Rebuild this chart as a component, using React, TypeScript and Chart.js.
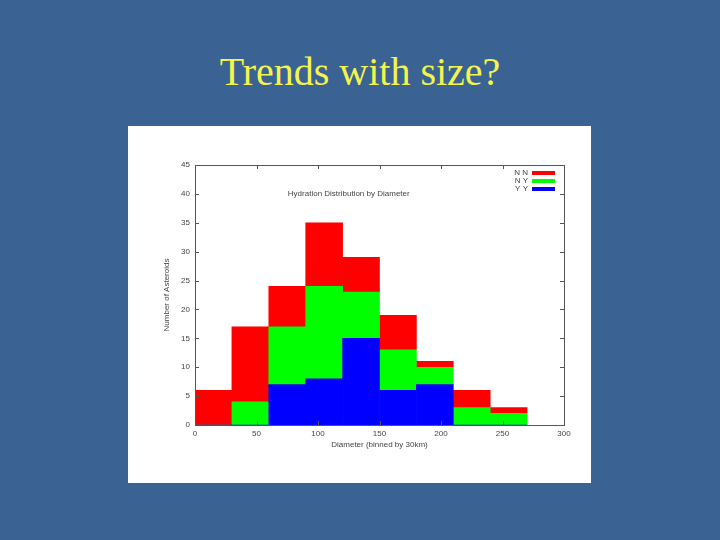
import React, { useEffect, useRef } from "react";
import { Chart, registerables } from "chart.js";

Chart.register(...registerables);

const binCenters = [15, 45, 75, 105, 135, 165, 195, 225, 255];
const yyValues = [0, 0, 7, 8, 15, 6, 7, 0, 0];
const nyValues = [0, 4, 10, 16, 8, 7, 3, 3, 2];
const nnValues = [6, 13, 7, 11, 6, 6, 1, 3, 1];
const seriesLabels = ["Y Y", "N Y", "N N"];
const seriesColors = ["#0000ff", "#00ff00", "#ff0000"];
const legendOrder = [2, 1, 0];
const chartTitle = "Hydration Distribution by Diameter";
const xTitle = "Diameter (binned by 30km)";
const yTitle = "Number of Asteroids";
const slideTitle = "Trends with size?";

const FONT = "'Liberation Sans', Arial, sans-serif";
const TEXT = "#444";

const gnuplotPlugin = {
  id: "gnuplotDecor",
  afterDatasetsDraw(chart: any) {
    const { ctx, chartArea } = chart;
    const { left, right, top, bottom } = chartArea;
    const xs = chart.scales.x;
    const ys = chart.scales.y;
    ctx.save();
    ctx.strokeStyle = "#555";
    ctx.lineWidth = 1;
    ctx.strokeRect(Math.round(left) + 0.5, Math.round(top) + 0.5, Math.round(right - left), Math.round(bottom - top));
    const tl = 4;
    ctx.beginPath();
    xs.ticks.forEach((t: any) => {
      const px = Math.round(xs.getPixelForValue(t.value)) + 0.5;
      ctx.moveTo(px, bottom);
      ctx.lineTo(px, bottom - tl);
      ctx.moveTo(px, top);
      ctx.lineTo(px, top + tl);
    });
    ys.ticks.forEach((t: any) => {
      const py = Math.round(ys.getPixelForValue(t.value)) + 0.5;
      ctx.moveTo(left, py);
      ctx.lineTo(left + tl, py);
      ctx.moveTo(right, py);
      ctx.lineTo(right - tl, py);
    });
    ctx.stroke();
    ctx.fillStyle = TEXT;
    ctx.font = `8px ${FONT}`;
    ctx.textAlign = "center";
    ctx.textBaseline = "middle";
    ctx.fillText(chartTitle, xs.getPixelForValue(125), ys.getPixelForValue(40));
    const ds = chart.data.datasets;
    legendOrder.forEach((idx, row) => {
      const y = top + 8 + row * 8;
      const swRight = right - 9;
      const swLeft = swRight - 23;
      ctx.fillStyle = ds[idx].backgroundColor;
      ctx.fillRect(swLeft, y - 2, 23, 4);
      ctx.fillStyle = TEXT;
      ctx.textAlign = "right";
      ctx.fillText(ds[idx].label, swLeft - 4, y);
    });
    ctx.restore();
  },
};

export default function App() {
  const ref = useRef<HTMLCanvasElement>(null);
  useEffect(() => {
    if (!ref.current) return;
    const series = [yyValues, nyValues, nnValues];
    const chart = new Chart(ref.current, {
      type: "bar",
      data: {
        datasets: series.map((vals, i) => ({
          label: seriesLabels[i],
          data: vals.map((v, j) => ({ x: binCenters[j], y: v })),
          backgroundColor: seriesColors[i],
          borderWidth: 0,
          barPercentage: 1,
          categoryPercentage: 1,
        })),
      },
      options: {
        animation: false,
        responsive: false,
        maintainAspectRatio: false,
        layout: { padding: { top: 39, right: 27, left: 0, bottom: 0 } },
        plugins: { legend: { display: false }, tooltip: { enabled: false } },
        scales: {
          x: {
            type: "linear",
            stacked: true,
            offset: false,
            min: 0,
            max: 300,
            border: { display: false },
            grid: { display: false, drawTicks: false },
            ticks: { stepSize: 50, padding: 4, color: TEXT, font: { size: 8, family: FONT }, maxRotation: 0 },
            title: { display: true, text: xTitle, color: TEXT, font: { size: 8, family: FONT }, padding: { top: 0, bottom: 33 } },
            afterFit: (s: any) => { s.height = 58; },
          },
          y: {
            stacked: true,
            min: 0,
            max: 45,
            border: { display: false },
            grid: { display: false, drawTicks: false },
            ticks: { stepSize: 5, padding: 5, color: TEXT, font: { size: 8, family: FONT } },
            title: { display: true, text: yTitle, color: TEXT, font: { size: 8, family: FONT }, padding: { top: 34, bottom: 0 } },
            afterFit: (s: any) => { s.width = 67; },
          },
        },
      },
      plugins: [gnuplotPlugin],
    } as any);
    return () => chart.destroy();
  }, []);

  return (
    <div style={{ position: "fixed", left: 0, top: 0, width: 720, height: 540, background: "#3a6394", overflow: "hidden" }}>
      <div
        style={{
          position: "absolute",
          left: 0,
          width: 720,
          top: 48,
          textAlign: "center",
          fontFamily: "'Liberation Serif', 'Times New Roman', serif",
          fontSize: 40,
          lineHeight: "48px",
          color: "#f4f44c",
        }}
      >
        {slideTitle}
      </div>
      <canvas
        ref={ref}
        width={463}
        height={357}
        style={{ position: "absolute", left: 128, top: 126, width: 463, height: 357, background: "#ffffff" }}
      />
    </div>
  );
}
